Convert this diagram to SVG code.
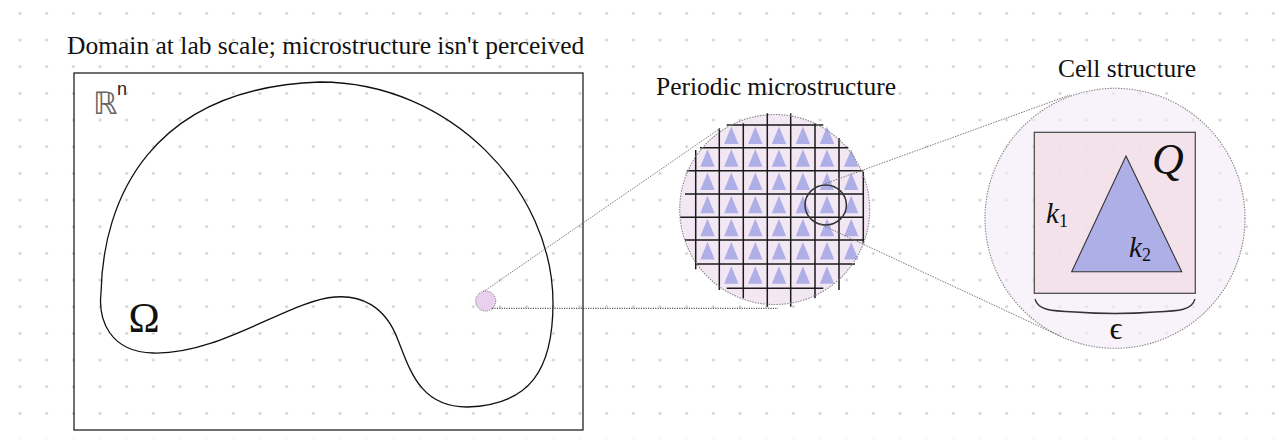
<svg xmlns="http://www.w3.org/2000/svg" xmlns:xlink="http://www.w3.org/1999/xlink" width="1278" height="439" viewBox="0 0 1278 439">
  <defs>
    <pattern id="dots" patternUnits="userSpaceOnUse" x="6.6667" y="0" width="26.6667" height="26.6667">
      <circle cx="13.3333" cy="13.3333" r="1.5" fill="#d2d2d2"/>
    </pattern>
    <path id="tri" d="M0 -10 L7.2 7.5 L-7.2 7.5 Z" fill="#afafe7"/>
  </defs>
  <style>
    .title { font-family: "Liberation Serif", "Times New Roman", serif; font-size: 25.5px; fill: #111; }
    .math { font-family: "Liberation Serif", "DejaVu Serif", serif; fill: #111; }
    .grid line { stroke: #1a1a1a; stroke-width: 1.5; }
    .lens { stroke: #888; stroke-width: 1.1; stroke-dasharray: 1.5 1.2; }
    .conn { fill: none; stroke: #7a7a7a; stroke-width: 1; stroke-dasharray: 1.5 1.2; }
  </style>

  <rect id="background" x="0" y="0" width="1278" height="439" fill="#ffffff"/>
  <rect x="0" y="0" width="1278" height="439" fill="url(#dots)"/>

  <g id="domain">
    <text class="title" x="67" y="54">Domain at lab scale; microstructure isn't perceived</text>
    <rect x="74" y="73" width="509" height="357" fill="none" stroke="#222" stroke-width="1.3"/>
    <text x="93" y="113.5" font-family="DejaVu Sans, sans-serif" font-size="31" fill="#666">ℝ</text>
    <text x="117" y="95" font-family="Liberation Sans, Arial, sans-serif" font-size="18" fill="#222">n</text>
    <path d="M320 82 C450 82 553 190 553 303 C553 370 530 405 467 407 C420 407 410 370 398 340 C385 305 360 295 335 297 C290 300 220 355 153 353 C110 352 98 320 101 293 C103 200 150 88 320 82 Z" fill="none" stroke="#111" stroke-width="1.3"/>
    <text class="math" x="144" y="332" font-size="42" text-anchor="middle">Ω</text>
  </g>

  <g id="zoom-point">
    <circle cx="485.7" cy="301" r="10" fill="#ead0ef" stroke="#777" stroke-width="1" stroke-dasharray="1.2 1"/>
  </g>

  <g id="microstructure">
    <text class="title" x="776" y="95" text-anchor="middle">Periodic microstructure</text>
    <circle cx="774.7" cy="209.5" r="95" fill="#f3e7f3"/>
    <g id="cells">
      <use xlink:href="#tri" x="731.3" y="136.4"/><use xlink:href="#tri" x="755.3" y="136.4"/><use xlink:href="#tri" x="779" y="136.4"/><use xlink:href="#tri" x="802.9" y="136.4"/><use xlink:href="#tri" x="827" y="136.4"/>
      <use xlink:href="#tri" x="707.5" y="159.2"/><use xlink:href="#tri" x="731.3" y="159.2"/><use xlink:href="#tri" x="755.3" y="159.2"/><use xlink:href="#tri" x="779" y="159.2"/><use xlink:href="#tri" x="802.9" y="159.2"/><use xlink:href="#tri" x="827" y="159.2"/><use xlink:href="#tri" x="851.2" y="159.2"/>
      <use xlink:href="#tri" x="707.5" y="182.4"/><use xlink:href="#tri" x="731.3" y="182.4"/><use xlink:href="#tri" x="755.3" y="182.4"/><use xlink:href="#tri" x="779" y="182.4"/><use xlink:href="#tri" x="802.9" y="182.4"/><use xlink:href="#tri" x="827" y="182.4"/><use xlink:href="#tri" x="851.2" y="182.4"/>
      <use xlink:href="#tri" x="707.5" y="205.7"/><use xlink:href="#tri" x="731.3" y="205.7"/><use xlink:href="#tri" x="755.3" y="205.7"/><use xlink:href="#tri" x="779" y="205.7"/><use xlink:href="#tri" x="802.9" y="205.7"/><use xlink:href="#tri" x="827" y="205.7"/><use xlink:href="#tri" x="851.2" y="205.7"/>
      <use xlink:href="#tri" x="707.5" y="228.7"/><use xlink:href="#tri" x="731.3" y="228.7"/><use xlink:href="#tri" x="755.3" y="228.7"/><use xlink:href="#tri" x="779" y="228.7"/><use xlink:href="#tri" x="802.9" y="228.7"/><use xlink:href="#tri" x="827" y="228.7"/><use xlink:href="#tri" x="851.2" y="228.7"/>
      <use xlink:href="#tri" x="707.5" y="252"/><use xlink:href="#tri" x="731.3" y="252"/><use xlink:href="#tri" x="755.3" y="252"/><use xlink:href="#tri" x="779" y="252"/><use xlink:href="#tri" x="802.9" y="252"/><use xlink:href="#tri" x="827" y="252"/><use xlink:href="#tri" x="851.2" y="252"/>
      <use xlink:href="#tri" x="731.3" y="276.2"/><use xlink:href="#tri" x="755.3" y="276.2"/><use xlink:href="#tri" x="779" y="276.2"/><use xlink:href="#tri" x="802.9" y="276.2"/><use xlink:href="#tri" x="827" y="276.2"/>
    </g>
    <g class="grid">
      <line x1="726.7" y1="125" x2="823.3" y2="125"/>
      <line x1="700" y1="147.7" x2="848.3" y2="147.7"/>
      <line x1="686.7" y1="170.7" x2="863.3" y2="170.7"/>
      <line x1="685" y1="194" x2="863.3" y2="194"/>
      <line x1="680" y1="217.3" x2="863.3" y2="217.3"/>
      <line x1="685" y1="240" x2="863.3" y2="240"/>
      <line x1="695" y1="264" x2="855" y2="264"/>
      <line x1="726.7" y1="288.3" x2="823.3" y2="288.3"/>
      <line x1="695.7" y1="150" x2="695.7" y2="269.3"/>
      <line x1="719.3" y1="128.3" x2="719.3" y2="290"/>
      <line x1="743.3" y1="123.3" x2="743.3" y2="298.3"/>
      <line x1="767.3" y1="113.3" x2="767.3" y2="306.7"/>
      <line x1="790.7" y1="113.3" x2="790.7" y2="306.7"/>
      <line x1="815" y1="123.3" x2="815" y2="298.3"/>
      <line x1="839" y1="138" x2="839" y2="290"/>
      <line x1="863.3" y1="171.7" x2="863.3" y2="243.3"/>
    </g>
    <circle class="lens" cx="774.7" cy="209.5" r="95" fill="none"/>
    <ellipse cx="825.7" cy="205" rx="20.7" ry="20" fill="none" stroke="#333" stroke-width="1.5"/>
  </g>

  <g id="cell">
    <text class="title" x="1127" y="77" text-anchor="middle">Cell structure</text>
    <circle class="lens" cx="1115" cy="218.3" r="130" fill="#f4eaf8" fill-opacity="0.6"/>
    <rect x="1034.3" y="132.3" width="161" height="161" fill="#f1dce3" fill-opacity="0.75" stroke="#444" stroke-width="1.2"/>
    <path d="M1126 156 L1181.7 271.7 L1071.7 271.7 Z" fill="#afafe7" stroke="#333" stroke-width="1.1"/>
    <text class="math" x="1168" y="174" font-size="44" font-style="italic" text-anchor="middle">Q</text>
    <text class="math" x="1046" y="223" font-size="29" font-style="italic">k<tspan font-size="18" font-style="normal" dy="4">1</tspan></text>
    <text class="math" x="1129" y="257" font-size="29" font-style="italic">k<tspan font-size="18" font-style="normal" dy="4">2</tspan></text>
    <path d="M1035 299 C1038 310 1050 311 1075 312 Q1115 315 1155 312 C1180 311 1192 310 1195 299" fill="none" stroke="#333" stroke-width="1.3"/>
    <text class="math" x="1116" y="339" font-size="32" text-anchor="middle">ϵ</text>
  </g>

  <g id="connectors">
    <line class="conn" x1="483.3" y1="291.7" x2="720" y2="128.5"/>
    <line x1="492" y1="308.3" x2="778" y2="308.3" stroke="#333" stroke-width="1" stroke-dasharray="1.2 1.2"/>
    <line class="conn" x1="823" y1="184.5" x2="1070" y2="95"/>
    <line class="conn" x1="820" y1="224" x2="1062" y2="337"/>
  </g>
</svg>
